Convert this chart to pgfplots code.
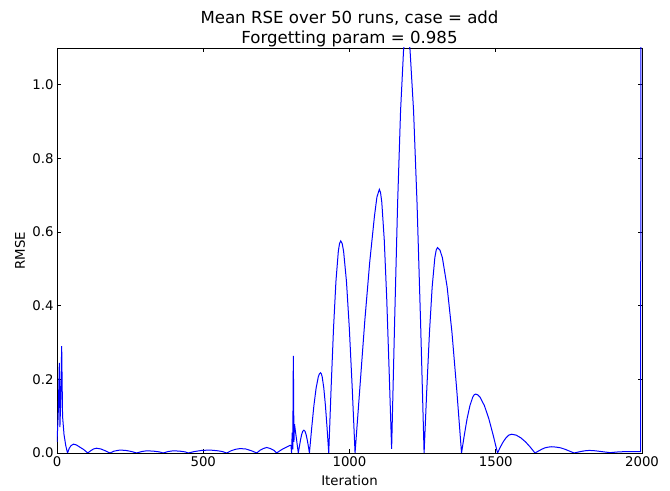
\documentclass[border=0pt]{standalone}
\usepackage{fontspec}
\setmainfont{DejaVu Sans}
\usepackage{pgfplots}
\pgfplotsset{compat=1.18}
\begin{document}
\begin{tikzpicture}
\begin{axis}[
  scale only axis,
  width=585pt, height=405pt,
  xmin=0, xmax=2000, ymin=0, ymax=1.1,
  xtick={0,500,1000,1500,2000},
  ytick={0,0.2,0.4,0.6,0.8,1.0},
  scaled ticks=false,
  /pgf/number format/1000 sep={},
  /pgf/number format/assume math mode=true,
  yticklabel style={/pgf/number format/.cd, fixed, fixed zerofill, precision=1},
  ticklabel style={font=\fontsize{13.3}{16}\selectfont},
  tick align=inside,
  major tick length=4.4pt,
  minor tick num=0,
  tick style={black, line width=0.8pt},
  axis line style={line width=0.8pt},
  title={Mean RSE over 50 runs, case = add\\Forgetting param = 0.985},
  title style={font=\fontsize{16.6}{20}\selectfont, align=center, at={(0.5,1)}, anchor=south, inner sep=0pt, yshift=-5pt},
  xlabel={Iteration}, ylabel={RMSE},
  label style={font=\fontsize{13.3}{16}\selectfont},
  xlabel style={at={(0.5,0)}, anchor=north, yshift=-19pt},
  ylabel style={at={(axis description cs:-0.0632,0.5)}, anchor=center},
]
\addplot[color={rgb,255:red,0;green,0;blue,255}, line width=1pt] coordinates {
(0,0.03) (4,0.10) (8,0.245) (10,0.07) (13,0.15) (16,0.29) (19,0.10) (24,0.05) (30,0.02) (36,0)
(42,0.013) (48,0.020) (56,0.024) (66,0.022) (78,0.016) (92,0.009) (105,0)
(115,0.006) (125,0.011) (135,0.013) (150,0.011) (165,0.006) (181,0)
(195,0.005) (215,0.008) (235,0.007) (255,0.004) (272,0)
(290,0.004) (307,0.006) (330,0.005) (350,0.003) (363,0)
(380,0.004) (398,0.006) (420,0.005) (438,0.003) (449,0)
(470,0.004) (495,0.007) (523,0.008) (550,0.006) (565,0.004) (580,0)
(595,0.006) (610,0.010) (626,0.012) (645,0.011) (665,0.006) (683,0)
(695,0.008) (705,0.012) (717,0.015) (730,0.012) (742,0.007) (751,0)
(760,0.005) (770,0.010) (780,0.014) (790,0.018) (797,0.021) (800,0.02) (802,0.0) (804,0.055) (806,0.01) (808,0.264) (810,0.03) (812,0.078) (815,0.06) (820,0.03) (825,0)
(832.6,0.036) (836.4,0.050) (840.2,0.059) (844,0.062) (847.8,0.059) (851.6,0.050) (855.4,0.036) (859.2,0.019) (863,0)
(870.6,0.067) (878.2,0.128) (885.8,0.176) (893.4,0.207) (897.2,0.215) (901,0.218)
(903.8,0.215) (906.6,0.207) (912.2,0.176) (917.8,0.128) (923.4,0.067) (929,0)
(937.2,0.178) (945.4,0.339) (953.6,0.466) (961.8,0.548) (965.9,0.569) (970,0.576)
(974.9,0.569) (979.8,0.548) (989.6,0.466) (999.4,0.339) (1009.2,0.178) (1019,0)
(1035.6,0.179) (1052.2,0.358) (1068.8,0.516) (1085.4,0.644) (1093.7,0.695) (1102,0.716)
(1106.2,0.707) (1110.4,0.681) (1118.8,0.579) (1127.2,0.421) (1135.6,0.221) (1144,0.011)
(1154.2,0.355) (1164.4,0.676) (1174.6,0.930) (1184.8,1.094) (1189.9,1.136) (1195,1.15)
(1201,1.136) (1207,1.094) (1219,0.930) (1231,0.676) (1243,0.355) (1255,0)
(1264.2,0.172) (1273.4,0.328) (1282.6,0.451) (1291.8,0.531) (1296.4,0.551) (1301,0.558)
(1309.2,0.551) (1317.4,0.531) (1333.8,0.451) (1350.2,0.328) (1366.6,0.172) (1383,0)
(1392.6,0.049) (1402.2,0.094) (1411.8,0.129) (1421.4,0.152) (1426.2,0.158) (1431,0.160)
(1438.5,0.158) (1446,0.152) (1461,0.129) (1476,0.094) (1491,0.049) (1506,0)
(1515.6,0.016) (1525.2,0.030) (1534.8,0.041) (1544.4,0.0485) (1554,0.051)
(1570,0.0485) (1586,0.041) (1602,0.030) (1618,0.016) (1634,0)
(1645.4,0.005) (1656.8,0.010) (1668.2,0.014) (1679.6,0.016) (1691,0.017)
(1706.4,0.016) (1721.8,0.014) (1737.2,0.010) (1752.6,0.005) (1768,0)
(1790,0.004) (1805,0.006) (1820,0.007) (1840,0.006) (1860,0.004) (1891,0.001)
(1920,0.003) (1950,0.004) (1980,0.004) (1995,0.004) (1997,1.5)
};
\coordinate (sw) at (rel axis cs:0,0);
\coordinate (ne) at (rel axis cs:1,1);
\end{axis}
\pgfresetboundingbox
\path[use as bounding box] ([shift={(-57pt,-38pt)}]sw) rectangle ([shift={(28pt,48pt)}]ne);
\end{tikzpicture}
\end{document}
